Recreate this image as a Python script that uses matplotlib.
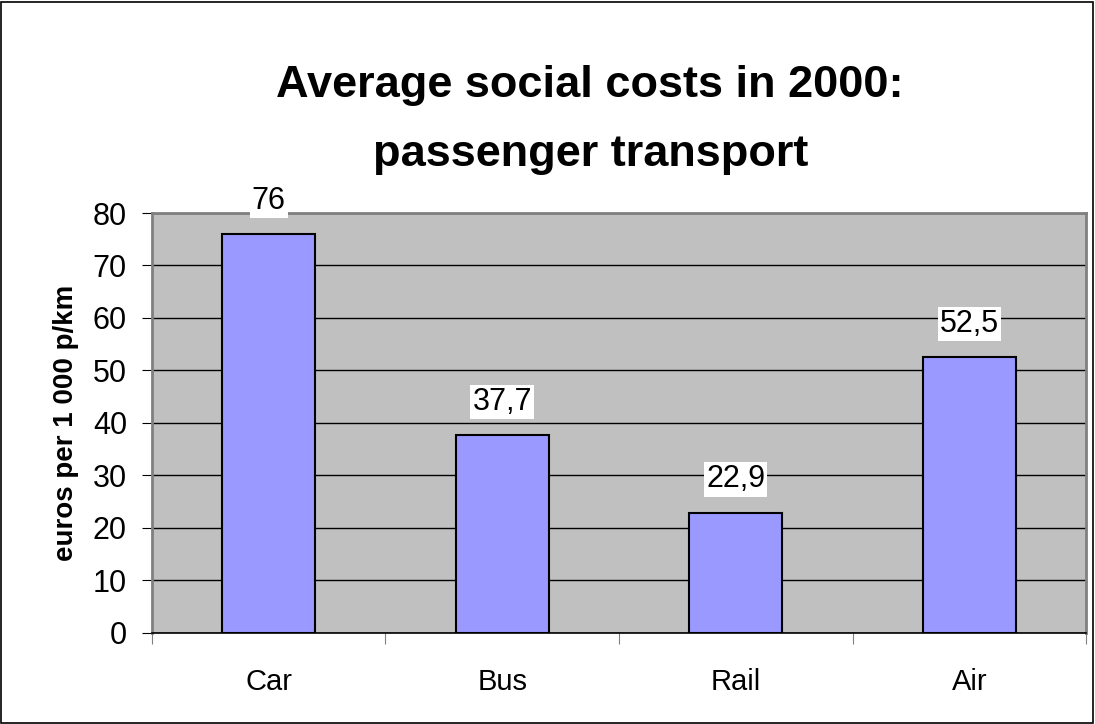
import matplotlib
matplotlib.use("Agg")
import matplotlib.pyplot as plt
from matplotlib.patches import Rectangle

plt.rcParams['font.family'] = ['Liberation Sans', 'DejaVu Sans']

categories = ["Car", "Bus", "Rail", "Air"]
values = [76, 37.7, 22.9, 52.5]
value_labels = ["76", "37,7", "22,9", "52,5"]
y_ticks = [0, 10, 20, 30, 40, 50, 60, 70, 80]

fig = plt.figure(figsize=(10.95, 7.24), dpi=100)
ax = fig.add_axes([0.1388, 0.1257, 0.8530, 0.5801])

# outer chart border
fig.patches.append(Rectangle((0.001, 0.0015), 0.997, 0.996, transform=fig.transFigure,
                             fill=False, edgecolor='black', linewidth=1.2))

ax.set_facecolor('#C0C0C0')
pos = list(range(len(categories)))
ax.bar(pos, values, width=0.4, color='#9999FF', edgecolor='black', linewidth=1.5, zorder=3)

# value labels on white boxes above each bar
for x, v, s in zip(pos, values, value_labels):
    ax.annotate(s, (x, v), xytext=(0, 24), textcoords='offset points',
                ha='center', va='center', fontsize=22, zorder=4,
                bbox=dict(facecolor='white', edgecolor='none', pad=1.5))

ax.set_xlim(-0.5, len(categories) - 0.5)
ax.set_ylim(0, 80)
ax.set_yticks(y_ticks)
ax.set_yticklabels([str(t) for t in y_ticks], fontsize=22)
ax.yaxis.grid(True, color='black', linewidth=1.0, zorder=1)
ax.set_axisbelow(True)

ax.set_xticks([p - 0.5 for p in pos] + [len(categories) - 0.5])
ax.set_xticklabels([])
ax.set_xticks(pos, minor=True)
ax.set_xticklabels(categories, minor=True, fontsize=21)
ax.tick_params(axis='x', which='minor', length=0, pad=25)
ax.tick_params(axis='x', which='major', length=8, direction='out', color='#808080')
ax.tick_params(axis='y', length=7, direction='out', color='black', pad=11)

for side in ['top', 'right', 'left']:
    ax.spines[side].set_color('#808080')
    ax.spines[side].set_linewidth(2)
ax.spines['bottom'].set_color('black')
ax.spines['bottom'].set_linewidth(1.2)

ax.set_ylabel("euros per 1 000 p/km", fontsize=20, fontweight='bold', labelpad=10)

fig.text(0.539, 0.882, "Average social costs in 2000:", ha='center', va='center',
         fontsize=32.5, fontweight='bold')
fig.text(0.539, 0.786, "passenger transport", ha='center', va='center',
         fontsize=32.5, fontweight='bold')

fig.savefig("out.png", dpi=100)
